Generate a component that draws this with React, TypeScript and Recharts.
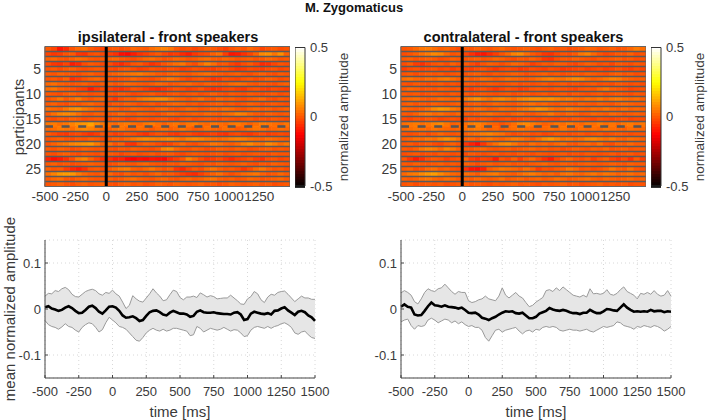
import React from "react";
import {
  ScatterChart, Scatter, ComposedChart, Area, Line, XAxis, YAxis, ReferenceLine, ReferenceArea, CartesianGrid, Label,
} from "recharts";

const mainTitle = "M. Zygomaticus";
const panelTitles = ["ipsilateral - front speakers", "contralateral - front speakers"];
const heatXTicks = [-500, -250, 0, 250, 500, 750, 1000, 1250];
const lineXTicks = [-500, -250, 0, 250, 500, 750, 1000, 1250, 1500];
const heatYTicks = [5, 10, 15, 20, 25];
const lineYTicks = [-0.1, 0, 0.1];
const barTicks = [-0.5, 0, 0.5];
const boundaries = [1.5,2.5,3.5,4.5,5.5,6.5,7.5,8.5,9.5,10.5,11.5,12.5,13.5,14.5,15.5,17.5,18.5,19.5,20.5,21.5,22.5,23.5,24.5,25.5,26.5,27.5];
const barLevels = [-0.5,-0.48,-0.46,-0.44,-0.42,-0.4,-0.38,-0.36,-0.34,-0.32,-0.3,-0.28,-0.26,-0.24,-0.22,-0.2,-0.18,-0.16,-0.14,-0.12,-0.1,-0.08,-0.06,-0.04,-0.02,0,0.02,0.04,0.06,0.08,0.1,0.12,0.14,0.16,0.18,0.2,0.22,0.24,0.26,0.28,0.3,0.32,0.34,0.36,0.38,0.4,0.42,0.44,0.46,0.48,0.5];

// hundredths of normalized amplitude, 50 ms bins from -500 ms, participant 1..28
const ipsiRows = [
[3,0,-7,-4,2,5,6,3,1,0,2,3,1,2,5,4,3,6,8,9,7,3,1,2,0,2,4,3,1,-1,2,4,2,5,3,0,2,3,1,2],
[0,-2,-1,2,3,-2,-3,1,2,0,-1,-3,-8,-9,-6,-3,-1,1,3,0,-2,-1,-4,-6,-2,0,1,4,6,-1,-7,-6,-3,0,4,10,11,7,11,4],
[4,5,3,2,4,6,5,3,2,3,4,5,3,2,1,3,5,6,4,2,3,5,4,2,3,5,6,4,3,5,4,2,3,4,2,3,5,4,2,3],
[1,-2,-3,0,-6,-4,1,3,2,0,1,-2,-4,-1,2,3,0,-3,-1,2,4,6,7,3,1,5,9,6,2,3,0,-2,1,3,0,-4,-3,0,2,1],
[2,3,1,3,4,2,1,2,3,2,1,0,2,3,1,-1,0,2,1,0,2,1,-1,0,2,1,0,-1,1,2,0,-2,-1,1,0,-1,1,2,0,1],
[3,2,4,3,2,1,3,4,2,1,3,4,5,6,7,8,6,5,3,2,4,5,3,2,4,5,6,4,3,2,3,4,2,1,3,4,2,1,3,2],
[2,3,1,4,-3,-1,2,4,5,3,2,1,2,3,5,3,2,1,3,5,7,5,2,0,2,3,1,-2,-1,2,1,0,2,3,1,2,4,3,1,2],
[5,6,4,3,2,3,4,2,1,3,4,2,3,5,4,3,2,3,5,4,2,3,4,5,3,2,4,3,2,3,5,6,5,3,2,3,2,1,3,4],
[6,7,4,3,2,0,-1,-6,-2,1,0,-2,-3,-1,2,1,-1,-3,-4,-2,0,2,1,-1,0,2,-1,-3,-2,0,1,-1,-2,1,2,0,-1,1,0,-1],
[3,2,1,3,4,2,3,1,2,3,2,1,3,2,0,1,2,3,1,0,2,3,1,2,3,1,2,4,2,1,3,2,1,3,2,1,2,3,1,2],
[2,4,7,3,5,8,4,2,4,5,1,-2,2,4,3,6,8,9,10,10,7,5,4,2,4,6,3,2,5,3,4,2,1,3,4,5,2,1,3,2],
[3,4,2,1,3,2,4,5,3,2,1,3,2,4,3,1,2,3,1,2,4,5,4,2,3,1,2,3,4,2,3,1,2,4,3,1,2,3,2,1],
[6,5,4,7,10,11,8,6,4,3,5,4,2,3,5,4,3,2,4,5,3,2,3,5,4,2,3,5,4,6,5,3,2,4,5,3,4,2,3,4],
[3,6,9,10,9,6,3,2,4,3,2,3,5,3,2,4,3,2,1,3,5,4,2,3,4,3,5,4,3,5,6,9,8,5,3,2,4,3,2,3],
[2,1,3,2,4,3,1,2,3,2,1,3,2,0,1,3,2,1,2,3,1,0,2,3,1,2,3,2,1,3,2,1,2,3,1,2,1,3,2,1],
[7,8,6,7,9,11,12,14,10,7,6,5,7,8,6,5,7,8,6,4,6,7,5,7,8,6,5,7,6,5,7,8,6,4,6,8,7,6,5,7],
[5,6,8,7,6,9,10,9,7,5,4,6,7,5,4,6,5,3,5,6,4,5,7,5,3,4,6,5,4,6,5,3,4,6,7,6,4,5,6,5],
[3,1,-1,-2,0,1,-1,-3,-1,2,1,-1,0,2,1,-1,-3,0,2,1,-1,-2,0,1,-1,-2,-1,0,-2,-3,0,1,-1,-2,0,1,-1,0,1,0],
[2,3,4,2,1,3,2,4,3,1,2,4,3,5,7,9,10,9,8,9,10,8,6,9,10,9,7,6,5,6,8,9,8,6,5,4,6,5,4,3],
[2,4,6,7,9,10,11,12,8,4,6,2,4,-2,-3,2,4,3,1,-1,0,3,5,2,1,3,4,7,6,4,3,5,8,10,7,6,10,8,5,7],
[3,2,4,3,1,2,4,3,2,3,2,1,3,2,4,3,2,1,3,9,10,5,3,2,4,3,1,2,4,3,2,4,3,1,2,3,4,2,3,2],
[2,1,3,4,2,1,3,2,1,2,3,2,0,2,3,1,2,3,1,2,3,1,0,2,3,2,1,2,3,1,2,3,1,2,3,2,1,3,2,2],
[-5,-8,-6,-3,1,7,9,4,0,-3,-3,-6,-5,-9,-10,-8,-9,-7,-8,-9,-4,-1,2,9,5,1,-2,-1,1,-2,-4,-1,0,2,-1,-3,1,2,0,1],
[3,4,2,3,1,2,3,4,3,2,1,2,4,3,2,4,5,3,2,1,3,2,4,3,2,1,3,2,4,3,2,3,4,2,1,3,2,4,3,2],
[4,2,3,-1,-4,-6,-3,2,3,1,3,5,7,8,4,3,5,7,4,2,4,-2,-4,0,3,1,5,7,4,2,3,1,-2,1,5,7,4,2,3,1],
[6,9,12,13,12,8,5,3,2,4,5,2,1,4,2,3,1,3,5,2,3,1,-1,-3,-4,-1,2,4,6,3,1,3,5,6,7,4,2,3,5,3],
[3,5,6,3,2,4,5,3,2,3,4,2,3,5,6,4,3,2,4,5,3,2,4,5,3,4,6,7,4,3,4,2,3,5,4,2,3,4,5,3],
[2,3,4,2,1,3,4,2,3,4,2,1,3,4,2,3,1,2,4,3,2,4,3,2,3,4,2,3,1,2,4,3,2,3,4,2,3,1,2,3],
];
const contraRows = [
[2,3,5,7,8,6,4,5,3,1,3,2,4,3,2,4,5,3,2,3,4,2,1,3,4,2,3,1,2,3,5,4,2,3,4,2,3,5,8,6],
[1,2,4,6,8,10,9,5,2,3,0,-3,-6,-7,-4,-1,2,5,9,10,6,3,1,-2,-3,0,2,1,3,7,9,5,2,0,1,3,2,4,1,2],
[3,4,2,3,4,3,1,2,4,3,2,3,4,2,3,5,4,2,1,3,2,4,2,-2,-3,1,3,2,4,3,2,1,3,2,3,4,2,3,1,2],
[1,3,-1,-3,0,2,3,1,4,2,3,1,-1,2,4,3,1,3,5,4,2,-1,1,3,2,4,3,1,0,2,4,3,1,2,0,3,2,1,3,2],
[-1,1,2,0,1,2,0,1,-1,1,0,-1,1,2,0,-2,0,1,0,-2,-1,1,0,-1,1,0,-2,-1,0,1,-1,0,1,-1,0,2,0,-1,1,0],
[2,3,1,2,3,2,3,1,2,3,2,3,4,2,1,3,2,3,4,3,1,2,3,4,2,3,1,2,3,2,4,3,2,1,3,4,2,3,1,2],
[6,7,5,4,6,5,7,8,6,4,5,3,4,6,5,3,4,6,5,4,3,4,6,8,9,7,6,8,10,9,6,4,5,7,9,8,5,4,3,4],
[2,1,3,2,1,2,3,1,2,1,3,2,1,2,3,2,1,2,3,1,2,1,2,3,1,2,3,1,2,1,2,3,1,2,1,3,2,1,2,1],
[3,5,4,2,3,2,4,3,2,3,1,-1,1,2,0,-2,0,2,1,-1,0,2,3,2,1,3,2,1,0,2,3,2,5,7,4,3,2,0,1,2],
[3,2,3,1,2,3,2,1,3,2,3,1,2,3,2,1,2,3,1,2,3,1,2,3,1,2,3,1,3,2,1,2,3,1,2,3,2,1,3,2],
[4,5,6,4,3,4,6,5,4,5,7,9,11,8,6,9,10,8,6,9,10,11,11,10,11,9,7,8,6,5,7,6,8,5,7,8,6,5,6,4],
[3,4,2,3,2,4,3,2,3,4,2,3,4,2,3,5,4,3,2,4,5,6,4,5,3,2,4,3,2,4,3,2,4,3,2,4,5,4,3,3],
[5,4,3,4,6,10,12,11,8,6,5,4,6,5,3,4,6,5,4,6,7,9,11,10,7,5,6,8,6,5,4,6,5,7,5,4,6,4,5,4],
[3,2,4,6,7,5,6,4,3,5,3,2,3,5,6,4,3,2,4,5,3,2,4,5,7,4,3,5,4,2,3,5,4,3,5,4,2,3,4,3],
[1,0,2,1,3,2,0,1,2,1,0,2,1,3,2,0,1,2,0,1,2,1,0,2,1,0,2,1,3,2,1,0,2,1,0,1,2,0,1,1],
[6,7,8,6,7,9,10,7,4,5,6,8,9,7,5,4,2,4,6,9,10,8,6,4,5,7,6,8,6,5,7,6,8,6,7,5,7,8,6,7],
[5,6,7,6,5,7,6,5,4,5,6,7,8,6,4,5,3,5,6,7,6,5,4,5,6,5,7,5,4,6,5,6,5,7,6,5,4,6,5,5],
[2,1,2,3,1,3,5,3,2,3,4,5,6,8,9,7,6,3,1,2,3,1,2,0,1,3,2,1,2,3,1,2,3,1,2,3,2,1,2,2],
[3,4,6,5,7,6,9,11,9,6,4,5,3,6,7,5,4,6,8,7,5,3,6,10,12,9,6,7,5,6,9,10,8,6,8,5,4,6,5,4],
[2,3,1,2,3,1,0,3,4,2,-2,-5,-8,-2,3,6,9,10,7,4,3,6,4,5,3,5,6,3,2,4,5,3,6,2,1,4,3,5,3,3],
[3,2,4,7,9,8,5,9,7,4,3,2,4,5,3,2,3,4,2,3,4,5,3,4,2,3,1,2,4,3,2,4,3,5,2,3,4,2,3,3],
[1,2,3,1,2,1,3,2,1,2,1,3,2,1,2,3,1,2,1,3,2,1,3,2,1,2,3,1,2,1,3,2,1,2,3,1,2,3,1,2],
[2,-2,-6,-3,1,3,2,-1,1,2,4,-1,-3,0,-1,-6,2,0,4,-1,3,5,1,-3,-6,0,3,5,2,1,3,-1,2,4,0,-2,1,-3,3,-1],
[3,2,4,3,2,3,4,2,3,2,4,3,1,3,4,2,3,4,2,3,2,3,4,5,3,2,4,3,2,3,4,3,2,3,4,3,2,4,3,3],
[3,4,1,2,5,6,3,4,2,1,-3,-7,-8,-5,3,5,7,6,5,3,6,4,-1,2,1,3,4,7,5,2,3,1,2,4,7,4,3,6,2,1],
[5,7,8,10,12,13,10,7,5,4,6,5,3,6,7,8,5,4,3,5,7,8,6,4,5,3,6,7,5,4,6,7,5,7,6,4,5,6,4,5],
[4,3,4,6,7,5,4,6,5,3,4,3,5,4,3,4,6,3,4,5,3,4,5,3,4,6,5,3,4,5,6,4,3,5,4,3,4,5,3,4],
[2,3,1,2,3,2,3,1,2,3,4,2,3,2,1,3,2,3,4,2,3,2,1,3,2,3,4,2,3,1,2,3,4,2,3,2,3,1,2,2],
];

const lineTimes = [-500,-475,-450,-425,-400,-375,-350,-325,-300,-275,-250,-225,-200,-175,-150,-125,-100,-75,-50,-25,0,25,50,75,100,125,150,175,200,225,250,275,300,325,350,375,400,425,450,475,500,525,550,575,600,625,650,675,700,725,750,775,800,825,850,875,900,925,950,975,1000,1025,1050,1075,1100,1125,1150,1175,1200,1225,1250,1275,1300,1325,1350,1375,1400,1425,1450,1475,1500];
const ipsiMean = [4,6,1,-1,-4,-2,3,6,2,-4,-9,-8,-2,5,7,2,-6,-10,-3,5,6,3,-4,-14,-19,-18,-16,-20,-26,-24,-15,-7,-4,-3,-7,-12,-14,-8,-4,-7,-10,-10,-12,-17,-15,-6,-3,-7,-8,-8,-7,-9,-10,-11,-11,-12,-8,-7,-12,-24,-22,-10,-6,-8,-10,-11,-9,-12,-4,-3,1,4,-3,-8,-13,-6,-4,-7,-14,-18,-26];
const ipsiHigh = [28,34,33,40,38,44,47,42,32,27,26,32,38,41,43,40,33,30,36,34,41,33,28,15,1,8,29,22,17,15,24,33,44,35,28,18,20,31,41,38,25,20,26,26,28,25,35,31,26,29,27,22,23,24,24,30,24,18,11,10,22,27,38,33,20,14,26,32,30,36,38,39,32,24,16,22,28,24,24,21,21];
const ipsiLow = [-25,-34,-38,-40,-44,-39,-32,-38,-40,-46,-50,-40,-34,-30,-32,-40,-50,-45,-30,-18,-24,-30,-38,-40,-44,-52,-60,-68,-70,-62,-52,-46,-42,-46,-48,-44,-48,-46,-42,-42,-44,-46,-48,-58,-56,-38,-42,-50,-46,-42,-44,-46,-44,-40,-44,-48,-45,-46,-52,-60,-58,-46,-40,-38,-40,-42,-38,-42,-38,-36,-32,-30,-34,-40,-52,-55,-50,-48,-56,-62,-64];
const contraMean = [5,10,5,3,-12,-14,-13,-4,6,14,8,7,5,8,5,4,3,1,3,-2,-8,-9,-8,-12,-19,-21,-24,-20,-17,-12,-8,-5,-6,-5,-9,-10,-8,-14,-20,-20,-17,-10,-7,-4,2,-1,-3,-4,-2,-4,-7,-9,-9,-11,-8,-8,-2,-6,-9,-9,-5,0,-1,-3,-4,3,10,3,-2,-6,-5,-6,-5,-6,-2,-5,-4,-4,-7,-5,-6];
const contraHigh = [35,40,36,30,16,11,22,36,44,40,38,44,46,54,46,38,32,38,36,36,18,14,16,20,22,28,22,20,18,28,46,30,24,30,36,28,24,14,5,8,15,20,25,40,42,38,46,40,48,42,36,30,28,26,30,26,44,33,34,32,34,42,32,30,34,42,48,38,34,30,22,34,32,36,32,40,32,28,30,40,28];
const contraLow = [-28,-24,-22,-36,-44,-36,-38,-36,-24,-20,-24,-30,-26,-22,-24,-30,-26,-32,-28,-34,-38,-36,-40,-40,-46,-62,-70,-58,-46,-44,-50,-46,-44,-42,-40,-48,-54,-48,-46,-50,-44,-46,-40,-38,-40,-38,-40,-46,-48,-46,-44,-46,-46,-48,-46,-44,-48,-50,-46,-42,-38,-40,-38,-36,-28,-30,-36,-38,-40,-44,-38,-40,-36,-38,-40,-36,-38,-42,-48,-44,-38];

const textColor = "#3a3a3a";
const font = "'Liberation Sans', Arial, sans-serif";
// my estimates read about 0.025 too high against the colour bar
const readingBias = 2.5;

function hot(v: number) {
  const t = Math.max(0, Math.min(1, v + 0.5));
  const r = Math.min(1, t / 0.375);
  const g = Math.max(0, Math.min(1, (t - 0.375) / 0.375));
  const b = Math.max(0, (t - 0.75) / 0.25);
  return `rgb(${Math.round(r * 255)},${Math.round(g * 255)},${Math.round(b * 255)})`;
}

function Cell(props: any) {
  const { cx, cy, payload } = props;
  return <rect x={cx - 3.3} y={cy - 2.8} width={6.6} height={5.6} fill={hot(payload.v)} />;
}

function BarCell(props: any) {
  const { cx, cy, payload } = props;
  return <rect x={cx - 5} y={cy - 1.8} width={10} height={3.6} fill={hot(payload.v)} />;
}

const rotated: React.CSSProperties = { position: "absolute", transform: "translate(-50%,-50%) rotate(-90deg)", whiteSpace: "nowrap", color: textColor, fontFamily: font };
const overMarks = 2000;

function Heatmap({ rows, left, ylabel }: { rows: number[][]; left: number; ylabel?: string }) {
  const cells = rows.flatMap((row, r) => row.map((c, i) => ({ t: -475 + i * 50, p: r + 1, v: (c - readingBias) / 100 })));
  return (
    <div style={{ position: "absolute", left, top: 0 }}>
      <ScatterChart width={290} height={210} margin={{ top: 46.5, right: 0, bottom: 0, left: 0 }}>
        <XAxis type="number" dataKey="t" domain={[-500, 1500]} ticks={heatXTicks} interval={0} height={23.5} tickSize={-3} tickMargin={8}
          tick={{ fontSize: 13.5, fill: textColor, fontFamily: font }} stroke="#555" />
        <YAxis type="number" dataKey="p" domain={[0.5, 28.5]} reversed ticks={heatYTicks} interval={0} width={45} tickSize={-3} tickMargin={7}
          tick={{ fontSize: 14, fill: textColor, fontFamily: font }} stroke="#555" />
        <Scatter data={cells} shape={Cell} isAnimationActive={false} />
        {boundaries.map((b) => <ReferenceLine key={b} y={b} stroke="#5a5a5a" strokeWidth={1.6} zIndex={overMarks} />)}
        <ReferenceLine y={16.5} stroke="#565656" strokeWidth={2.6} strokeDasharray="8 8.6" zIndex={overMarks} />
        <ReferenceLine x={0} stroke="#000" strokeWidth={3} zIndex={overMarks} />
        <ReferenceArea x1={-500} x2={1500} y1={0.5} y2={28.5} fill="none" stroke="#666" strokeWidth={1} zIndex={overMarks} />
      </ScatterChart>
      {ylabel ? <div style={{ ...rotated, left: 18, top: 117, fontSize: 15 }}>{ylabel}</div> : null}
    </div>
  );
}

function Colorbar({ left }: { left: number }) {
  const data = barLevels.map((v) => ({ x: 0.5, v }));
  return (
    <div style={{ position: "absolute", left, top: 0 }}>
      <ScatterChart width={60} height={210} margin={{ top: 47.5, right: 0, bottom: 24, left: 0 }}>
        <XAxis type="number" dataKey="x" domain={[0, 1]} hide />
        <YAxis type="number" dataKey="v" domain={[-0.5, 0.5]} ticks={barTicks} interval={0} orientation="right" width={50} tickSize={0} tickMargin={5}
          tickFormatter={(v: number) => String(v)} axisLine={false} tick={{ fontSize: 13, fill: textColor, fontFamily: font }} />
        <Scatter data={data} shape={BarCell} isAnimationActive={false} />
        <ReferenceArea x1={0} x2={1} y1={-0.5} y2={0.5} fill="none" stroke="#333" strokeWidth={1} zIndex={overMarks} />
      </ScatterChart>
      <div style={{ ...rotated, left: 48, top: 117, fontSize: 13.5 }}>normalized amplitude</div>
    </div>
  );
}

function MeanPlot({ mean, high, low, left, ylabel }: { mean: number[]; high: number[]; low: number[]; left: number; ylabel?: string }) {
  const table = lineTimes.map((t, i) => ({ t, m: mean[i] / 1000, hi: high[i] / 1000, lo: low[i] / 1000, band: [low[i] / 1000, high[i] / 1000] }));
  return (
    <div style={{ position: "absolute", left, top: 225 }}>
      <ComposedChart width={330} height={195} data={table} margin={{ top: 15, right: 15, bottom: 0, left: 0 }}>
        <CartesianGrid stroke="#d8d8d8" strokeDasharray="1 3" />
        <XAxis type="number" dataKey="t" domain={[-500, 1500]} ticks={lineXTicks} interval={0} height={42} tickSize={-3} tickMargin={12}
          tick={{ fontSize: 13, fill: textColor, fontFamily: font }} stroke="#444">
          <Label value="time [ms]" position="insideBottom" offset={3} style={{ fontSize: 15, fill: textColor, fontFamily: font }} />
        </XAxis>
        <YAxis type="number" domain={[-0.15, 0.15]} ticks={lineYTicks} interval={0} width={45} tickSize={-3} tickMargin={7}
          tickFormatter={(v: number) => String(v)} tick={{ fontSize: 13, fill: textColor, fontFamily: font }} stroke="#444" />
        <Area dataKey="band" type="linear" fill="#e6e6e6" fillOpacity={1} stroke="none" isAnimationActive={false} dot={false} activeDot={false} />
        <Line dataKey="hi" type="linear" stroke="#9a9a9a" strokeWidth={1} dot={false} isAnimationActive={false} />
        <Line dataKey="lo" type="linear" stroke="#9a9a9a" strokeWidth={1} dot={false} isAnimationActive={false} />
        <Line dataKey="m" type="linear" stroke="#000" strokeWidth={2.6} dot={false} isAnimationActive={false} />
      </ComposedChart>
      {ylabel ? <div style={{ ...rotated, left: 9, top: 84, fontSize: 15 }}>{ylabel}</div> : null}
    </div>
  );
}

const titleStyle: React.CSSProperties = { position: "absolute", transform: "translate(-50%,-50%)", whiteSpace: "nowrap", fontWeight: 700, fontFamily: font, color: "#111" };

export default function App() {
  return (
    <div style={{ position: "absolute", left: 0, top: 0, width: 708, height: 420, background: "#fff", overflow: "hidden" }}>
      <div style={{ ...titleStyle, left: 354, top: 7, fontSize: 13 }}>{mainTitle}</div>
      <div style={{ ...titleStyle, left: 168, top: 36.5, fontSize: 14.5 }}>{panelTitles[0]}</div>
      <div style={{ ...titleStyle, left: 523.5, top: 36.5, fontSize: 14.5 }}>{panelTitles[1]}</div>
      <Heatmap rows={ipsiRows} left={0} ylabel="participants" />
      <Heatmap rows={contraRows} left={356} />
      <Colorbar left={295} />
      <Colorbar left={651} />
      <MeanPlot mean={ipsiMean} high={ipsiHigh} low={ipsiLow} left={0} ylabel="mean normalized amplitude" />
      <MeanPlot mean={contraMean} high={contraHigh} low={contraLow} left={356} />
    </div>
  );
}
